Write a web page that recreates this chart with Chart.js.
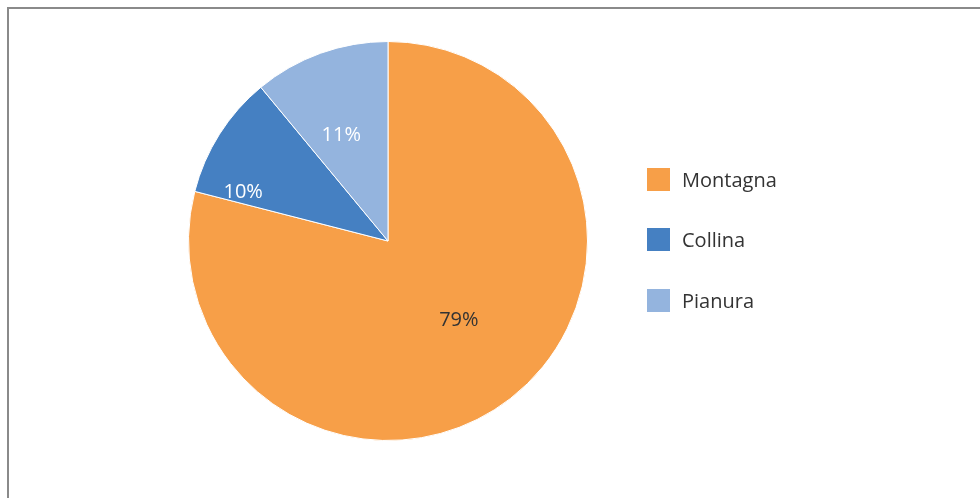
<!DOCTYPE html>
<html><head><meta charset="utf-8">
<script src="https://cdn.jsdelivr.net/npm/chart.js@4/dist/chart.umd.min.js"></script>
<style>
html,body{margin:0;padding:0;background:#fff;width:980px;height:498px;overflow:hidden;font-family:"Open Sans",sans-serif;}
#frame{position:absolute;left:7px;top:7px;width:1000px;height:600px;border-left:2px solid #8a8a8a;border-top:2px solid #8a8a8a;box-sizing:border-box;}
#wrap{position:absolute;left:0;top:0;width:980px;height:498px;}
#legend{position:absolute;left:647px;top:0;}
.li{position:absolute;left:0;white-space:nowrap;font-size:20px;color:#333;line-height:24px;}
.sw{position:absolute;left:0;width:23px;height:23px;}
.lt{position:absolute;left:35px;top:0;}
</style></head>
<body>
<div id="frame"></div>
<div id="wrap"><canvas id="c" width="980" height="498"></canvas></div>
<div id="legend"></div>
<script>
const categories = ["Montagna", "Collina", "Pianura"];
const values = [79, 10, 11];
const labels = ["79%", "10%", "11%"];
const colors = ["#F79F48", "#4580C2", "#94B4DE"];
const labelColors = ["#333333", "#ffffff", "#ffffff"];
// label placement: fraction along slice angle, fraction of radius
const labelT = [0.485, 0.13, 0.40];
const labelF = [0.53, 0.768, 0.582];

const dataLabelPlugin = {
  id: 'dataLabels',
  afterDatasetsDraw(chart) {
    const ctx = chart.ctx;
    const meta = chart.getDatasetMeta(0);
    ctx.save();
    ctx.font = '20px "Open Sans", sans-serif';
    ctx.textAlign = 'center';
    ctx.textBaseline = 'middle';
    meta.data.forEach((arc, i) => {
      const p = arc.getProps(['x','y','startAngle','endAngle','outerRadius'], true);
      const a = p.startAngle + labelT[i] * (p.endAngle - p.startAngle);
      const r = labelF[i] * p.outerRadius;
      ctx.fillStyle = labelColors[i];
      ctx.fillText(labels[i], p.x + Math.cos(a) * r, p.y + Math.sin(a) * r + 1);
    });
    ctx.restore();
  }
};

new Chart(document.getElementById('c'), {
  type: 'pie',
  data: {
    labels: categories,
    datasets: [{
      data: values,
      backgroundColor: colors,
      borderColor: '#ffffff',
      borderWidth: 1
    }]
  },
  options: {
    responsive: false,
    animation: false,
    layout: { padding: { left: 188, right: 392, top: 41, bottom: 57 } },
    plugins: { legend: { display: false }, tooltip: { enabled: false } }
  },
  plugins: [dataLabelPlugin]
});

const lg = document.getElementById('legend');
const tops = [168, 228, 289];
categories.forEach((c, i) => {
  const d = document.createElement('div');
  d.className = 'li';
  d.style.top = tops[i] + 'px';
  d.innerHTML = '<div class="sw" style="background:' + colors[i] + '"></div><div class="lt">' + c + '</div>';
  lg.appendChild(d);
});
</script>
</body></html>
